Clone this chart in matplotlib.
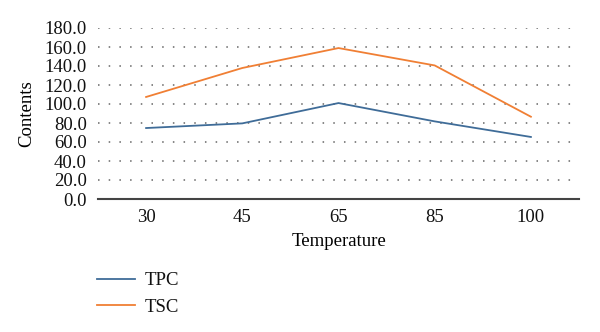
import matplotlib
matplotlib.use("Agg")
import matplotlib.pyplot as plt

categories = ["30", "45", "65", "85", "100"]
tpc = [74.7, 79.6, 101.0, 81.7, 65.3]
tsc = [107.4, 137.9, 158.9, 140.6, 86.6]
yticks = [0, 20, 40, 60, 80, 100, 120, 140, 160, 180]

plt.rcParams['font.family'] = ['Liberation Serif', 'DejaVu Serif']
plt.rcParams['font.size'] = 13.5
plt.rcParams['text.color'] = '#111111'

fig = plt.figure(figsize=(6, 3.32), dpi=100)
ax = fig.add_axes([98/600, 1-199/332, (579-98)/600, (199-28)/332])

x = list(range(len(categories)))
l1, = ax.plot(x, tpc, color='#3f6c98', lw=1.3, label='TPC')
l2, = ax.plot(x, tsc, color='#f07f34', lw=1.3, label='TSC')

ax.set_xlim(-0.5, len(categories) - 0.5)
ax.set_ylim(0, 180)
ax.set_xticks(x)
ax.set_xticklabels(categories)
ax.set_yticks(yticks)
ax.set_yticklabels([f"{v:.1f}" for v in yticks])
ax.tick_params(axis='both', length=0, labelcolor='#111111')
ax.tick_params(axis='y', pad=8)
ax.tick_params(axis='x', pad=7)
for s in ['top', 'right', 'left']:
    ax.spines[s].set_visible(False)
ax.spines['bottom'].set_color('#444444')
ax.spines['bottom'].set_linewidth(1.5)
ax.yaxis.grid(True, linestyle=(0, (1, 6)), color='#666666', lw=1.1)
ax.set_axisbelow(True)

ax.set_xlabel('Temperature', labelpad=5)
ax.set_ylabel('Contents', labelpad=7)

fig.legend(handles=[l1, l2], loc='upper left', bbox_to_anchor=(97/600, 1-272/332),
           frameon=False, borderpad=0, borderaxespad=0, handlelength=2.0,
           handletextpad=0.55, labelspacing=0.5)

fig.savefig('out.png', dpi=100)
